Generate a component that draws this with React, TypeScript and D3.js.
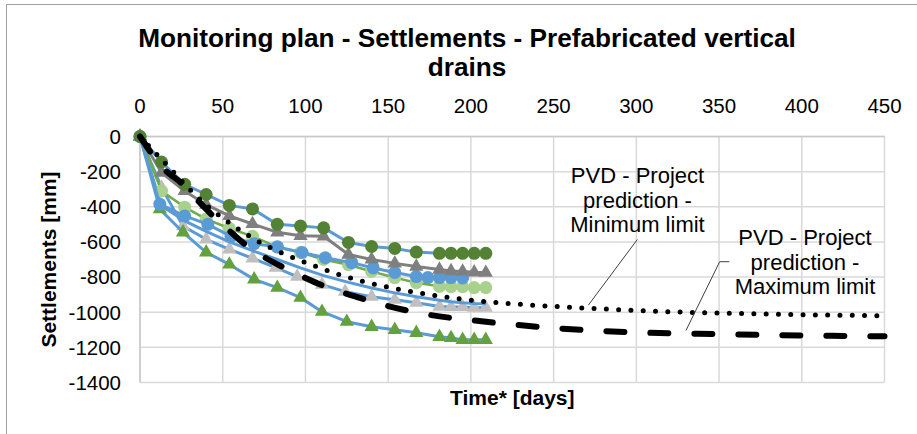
import React from 'react';
import * as d3 from 'd3';

const xTicks = [0, 50, 100, 150, 200, 250, 300, 350, 400, 450];
const yTicks = [0, -200, -400, -600, -800, -1000, -1200, -1400];

const titleLines = ['Monitoring plan - Settlements - Prefabricated vertical', 'drains'];
const xTitle = 'Time* [days]';
const yTitle = 'Settlements [mm]';
const minLabel = ['PVD - Project', 'prediction -', 'Minimum limit'];
const maxLabel = ['PVD - Project', 'prediction -', 'Maximum limit'];

const commonT = [0, 13, 27, 40, 54, 68, 83, 97, 111, 126, 140, 154, 167, 181, 188, 195, 202, 209];

const darkGreenV = [0, -145, -272, -330, -392, -412, -500, -510, -520, -603, -626, -637, -658, -665, -665, -665, -665, -665];
const darkGreyV = [0, -205, -310, -388, -452, -498, -545, -565, -568, -672, -700, -722, -740, -757, -766, -768, -773, -775];
const blueCircleT = [0, 12, 27, 41, 55, 69, 83, 98, 112, 128, 141, 154, 167, 174, 181, 188, 195];
const blueCircleV = [0, -385, -452, -500, -568, -610, -628, -660, -690, -718, -748, -774, -797, -803, -803, -803, -805];
const lightGreenV = [0, -310, -402, -470, -522, -568, -630, -660, -700, -730, -768, -803, -832, -853, -855, -855, -860, -860];
const blueLineV = [0, -395, -480, -540, -600, -650, -700, -748, -792, -830, -862, -890, -912, -932, -940, -946, -950, -952];
const lightGreyT = [0, 13, 26, 40, 54, 68, 82, 95, 110, 124, 140, 154, 167, 181, 188, 195, 202, 209];
const lightGreyV = [0, -290, -510, -585, -642, -693, -746, -797, -843, -883, -912, -929, -946, -968, -970, -970, -974, -974];
const greenTriT = [0, 12, 26, 40, 54, 69, 83, 97, 110, 125, 140, 154, 167, 181, 188, 195, 202, 209];
const greenTriV = [0, -413, -545, -659, -728, -813, -860, -917, -997, -1054, -1083, -1100, -1117, -1140, -1146, -1157, -1157, -1157];

const minT = [0, 10, 20, 30, 40, 50, 60, 75, 90, 105, 120, 135, 150, 165, 180, 200, 225, 250, 275, 300, 350, 400, 450];
const minV = [0, -100, -200, -300, -390, -465, -530, -615, -680, -735, -785, -825, -858, -885, -907, -932, -952, -967, -979, -990, -1005, -1014, -1020];
const maxT = [0, 15, 25, 35, 45, 55, 65, 75, 85, 100, 115, 130, 150, 175, 200, 225, 250, 275, 300, 350, 400, 450];
const maxV = [0, -190, -265, -365, -460, -545, -625, -686, -737, -805, -865, -910, -965, -1015, -1045, -1070, -1090, -1105, -1115, -1125, -1132, -1137];

type Series = { t: number[]; v: number[]; line: string; lw: number; marker: 'circle' | 'triangle' | null; mColor: string };

const series: Series[] = [
  { t: lightGreyT, v: lightGreyV, line: '#5B9BD5', lw: 3, marker: 'triangle', mColor: '#BFBFBF' },
  { t: greenTriT, v: greenTriV, line: '#5B9BD5', lw: 3, marker: 'triangle', mColor: '#63A03E' },
  { t: commonT, v: blueLineV, line: '#5B9BD5', lw: 3, marker: null, mColor: '#5B9BD5' },
  { t: commonT, v: lightGreenV, line: '#70AD47', lw: 2.5, marker: 'circle', mColor: '#A9D18E' },
  { t: blueCircleT, v: blueCircleV, line: '#5B9BD5', lw: 3, marker: 'circle', mColor: '#5B9BD5' },
  { t: commonT, v: darkGreyV, line: '#7F7F7F', lw: 3, marker: 'triangle', mColor: '#7F7F7F' },
  { t: commonT, v: darkGreenV, line: '#5B9BD5', lw: 3, marker: 'circle', mColor: '#548235' },
];

export default function App() {
  const W = 917, H = 434;
  const x = d3.scaleLinear().domain([0, 450]).range([140, 884.5]);
  const y = d3.scaleLinear().domain([0, -1400]).range([136.5, 382.5]);
  const font = '"Liberation Sans", Arial, sans-serif';

  const lineGen = d3.line<[number, number]>().x(d => x(d[0])).y(d => y(d[1]));
  const smoothGen = d3.line<[number, number]>().x(d => x(d[0])).y(d => y(d[1])).curve(d3.curveMonotoneX);
  const tri = d3.symbol().type(d3.symbolTriangle).size(88)();

  const minInterp = d3.scaleLinear().domain(minT).range(minV);
  const maxInterp = d3.scaleLinear().domain(maxT).range(maxV);
  const lead1 = { x: 271, y: minInterp(271) };
  const lead2 = { x: 330, y: maxInterp(330) };

  return (
    <svg width={W} height={H} style={{ position: 'absolute', left: 0, top: 0, background: '#fff' }} fontFamily={font}>
      <rect x={0} y={0} width={W} height={H} fill="#fff" />
      <rect x={6.5} y={4.5} width={1200} height={1200} fill="none" stroke="#a0a0a0" strokeWidth={1} />
      {titleLines.map((l, i) => (
        <text key={i} x={467} y={47 + i * 29} textAnchor="middle" fontSize={26.2} fontWeight="bold" fill="#000">{l}</text>
      ))}
      {/* grid */}
      {xTicks.map(t => (
        <line key={'gx' + t} x1={x(t)} x2={x(t)} y1={y(0)} y2={y(-1400)} stroke="#D9D9D9" strokeWidth={1.5} />
      ))}
      {yTicks.map(t => (
        <line key={'gy' + t} x1={x(0)} x2={x(450)} y1={y(t)} y2={y(t)} stroke="#D9D9D9" strokeWidth={1.5} />
      ))}
      <line x1={x(0)} x2={x(0)} y1={y(0)} y2={y(-1400)} stroke="#C8C8C8" strokeWidth={1.5} />
      <line x1={x(0)} x2={x(450)} y1={y(0)} y2={y(0)} stroke="#C8C8C8" strokeWidth={1.5} />
      {xTicks.map(t => (
        <text key={'tx' + t} x={x(t)} y={113} textAnchor="middle" fontSize={20.5} fill="#000">{t}</text>
      ))}
      {yTicks.map(t => (
        <text key={'ty' + t} x={121} y={y(t) + 7.3} textAnchor="end" fontSize={20.5} fill="#000">{t}</text>
      ))}
      <text x={(x(0) + x(450)) / 2} y={405} textAnchor="middle" fontSize={21} fontWeight="bold">{xTitle}</text>
      <text transform={`translate(56,${(y(0) + y(-1400)) / 2}) rotate(-90)`} textAnchor="middle" fontSize={21} fontWeight="bold">{yTitle}</text>

      {/* data */}
      {series.map((s, i) => {
        const pts = s.t.map((t, j) => [t, s.v[j]] as [number, number]);
        return (
          <g key={'s' + i}>
            <path d={lineGen(pts) || ''} fill="none" stroke={s.line} strokeWidth={s.lw} strokeLinejoin="round" />
            {s.marker === 'circle' && pts.map((p, j) => (
              <circle key={j} cx={x(p[0])} cy={y(p[1])} r={6.5} fill={s.mColor} />
            ))}
            {s.marker === 'triangle' && pts.map((p, j) => (
              <path key={j} d={tri || ''} transform={`translate(${x(p[0])},${y(p[1])})`} fill={s.mColor} />
            ))}
          </g>
        );
      })}

      {/* predictions */}
      <path d={smoothGen(minT.map((t, i) => [t, minV[i]] as [number, number])) || ''} fill="none" stroke="#000" strokeWidth={5} strokeDasharray="0 12.3" strokeLinecap="round" />
      <path d={smoothGen(maxT.map((t, i) => [t, maxV[i]] as [number, number])) || ''} fill="none" stroke="#000" strokeWidth={6} strokeDasharray="18 26" strokeLinecap="round" />

      {/* annotations */}
      <line x1={637.3} y1={239.5} x2={x(lead1.x)} y2={y(lead1.y) - 3} stroke="#404040" strokeWidth={1} />
      <polyline points={`729.3,261.7 719.7,261.7 ${x(lead2.x)},${y(lead2.y) - 3}`} fill="none" stroke="#404040" strokeWidth={1} />
      {minLabel.map((l, i) => (
        <text key={'a1' + i} x={637.5} y={183 + i * 24.5} textAnchor="middle" fontSize={22} fill="#000">{l}</text>
      ))}
      {maxLabel.map((l, i) => (
        <text key={'a2' + i} x={805} y={245 + i * 24.5} textAnchor="middle" fontSize={22} fill="#000">{l}</text>
      ))}
    </svg>
  );
}
